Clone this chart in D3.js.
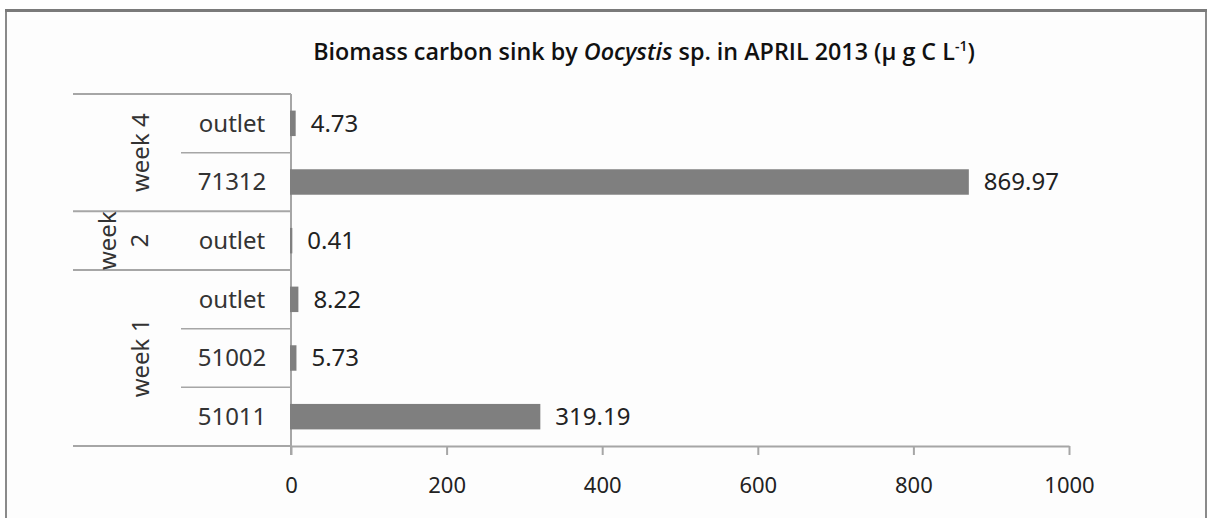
<!DOCTYPE html>
<html>
<head>
<meta charset="utf-8">
<script src="https://cdn.jsdelivr.net/npm/d3@7"></script>
<style>
  html, body { margin: 0; padding: 0; background: #ffffff; }
  svg { display: block; }
  text { font-family: "Noto Sans", "Open Sans", sans-serif; }
</style>
</head>
<body>
<svg id="chart" width="1209" height="518"></svg>
<script>
// Biomass carbon sink, April 2013 — one bar per sampling site, grouped by week
const groups     = ["week 1", "week 1", "week 1", "week 2", "week 4", "week 4"];
const categories = ["51011", "51002", "outlet", "outlet", "71312", "outlet"];
const values     = [319.19, 5.73, 8.22, 0.41, 869.97, 4.73];
const xTicks     = [0, 200, 400, 600, 800, 1000];

const svg = d3.select("#chart");
const W = 1209, H = 518;

// outer chart frame
svg.append("rect")
  .attr("x", 6).attr("y", 10.5).attr("width", 1200).attr("height", H)
  .attr("fill", "#fdfdfd").attr("stroke", "#8a8a8a").attr("stroke-width", 2);
svg.append("line")
  .attr("x1", 5).attr("x2", 1207).attr("y1", 10.5).attr("y2", 10.5)
  .attr("stroke", "#7a7a7a").attr("stroke-width", 3);

// plot area
const plot = { left: 291, right: 1069, top: 94, bottom: 446 };
const labelLeft = 73, innerLeft = 181;

const x = d3.scaleLinear().domain([0, 1000]).range([plot.left, plot.right]);
const idx = d3.range(values.length);
const y = d3.scaleBand()
  .domain(idx.slice().reverse())
  .range([plot.top, plot.bottom])
  .paddingInner(0.6).paddingOuter(0.3);
const step = y.step();

const lineColor = "#a6a6a6";

// title, sized so it spans the same width above the plot
const title = svg.append("text")
  .attr("x", 644).attr("y", 60)
  .attr("text-anchor", "middle")
  .attr("font-size", 22).attr("font-weight", 600)
  .style("font-family", "'Open Sans', 'Noto Sans', sans-serif")
  .attr("fill", "#111");
title.append("tspan").text("Biomass carbon sink by ");
title.append("tspan").attr("font-style", "italic").text("Oocystis");
title.append("tspan").text(" sp. in APRIL 2013 (\u00b5 g C L");
title.append("tspan").attr("font-size", "0.6em").attr("baseline-shift", "super").text("-1");
title.append("tspan").text(")");
const natural = title.node().getComputedTextLength();
title.attr("font-size", 22 * 662 / natural);

// x axis
const xAxis = d3.axisBottom(x).tickValues(xTicks).tickFormat(d3.format("d"))
  .tickSize(9).tickSizeOuter(0).tickPadding(22);
const gx = svg.append("g").attr("transform", `translate(0,${plot.bottom})`).call(xAxis);
gx.select(".domain").attr("stroke", lineColor).attr("stroke-width", 2);
gx.selectAll(".tick line").attr("stroke", lineColor).attr("stroke-width", 2);
gx.selectAll(".tick text")
  .attr("font-size", 22).attr("fill", "#222")
  .style("font-family", "'Noto Sans', sans-serif");

// vertical category axis line
svg.append("line")
  .attr("x1", plot.left).attr("x2", plot.left)
  .attr("y1", plot.top).attr("y2", plot.bottom + 9)
  .attr("stroke", lineColor).attr("stroke-width", 2);

// group boundaries (full width of the label area)
const groupRuns = [];
idx.forEach(i => {
  const last = groupRuns[groupRuns.length - 1];
  if (last && last.name === groups[i]) last.end = i;
  else groupRuns.push({ name: groups[i], start: i, end: i });
});
const bandTop = i => y(i) - (step - y.bandwidth()) / 2;
const bandBottom = i => bandTop(i) + step;

const groupEdges = [plot.bottom];
groupRuns.forEach(g => groupEdges.push(bandTop(g.end)));
svg.append("g").selectAll("line").data(groupEdges).join("line")
  .attr("x1", labelLeft).attr("x2", plot.left)
  .attr("y1", d => d).attr("y2", d => d)
  .attr("stroke", lineColor).attr("stroke-width", 2);

// boundaries between sites inside a group
const innerEdges = [];
groupRuns.forEach(g => {
  for (let i = g.start; i < g.end; i++) innerEdges.push(bandTop(i));
});
svg.append("g").selectAll("line").data(innerEdges).join("line")
  .attr("x1", innerLeft).attr("x2", plot.left)
  .attr("y1", d => d).attr("y2", d => d)
  .attr("stroke", lineColor).attr("stroke-width", 1.5);

// site labels
svg.append("g").selectAll("text").data(idx).join("text")
  .attr("x", 232)
  .attr("y", i => y(i) + y.bandwidth() / 2)
  .attr("dy", "0.35em")
  .attr("text-anchor", "middle")
  .attr("font-size", 24).attr("fill", "#333")
  .text(i => categories[i]);

// week labels, rotated; a single-site group wraps onto two lines
const wk = svg.append("g");
groupRuns.forEach(g => {
  const cy = (bandTop(g.end) + bandBottom(g.start)) / 2;
  const t = wk.append("text")
    .attr("text-anchor", "middle")
    .attr("font-size", 24).attr("fill", "#333");
  if (g.start === g.end) {
    const parts = g.name.split(" ");
    t.attr("transform", `translate(132,${cy}) rotate(-90)`);
    t.append("tspan").attr("x", 0).attr("dy", "-0.65em").text(parts[0]);
    t.append("tspan").attr("x", 0).attr("dy", "1.33em").text(parts[1]);
  } else {
    t.attr("transform", `translate(141,${cy}) rotate(-90)`)
      .attr("dy", "0.35em").text(g.name);
  }
});

// bars
svg.append("g").selectAll("rect").data(idx).join("rect")
  .attr("x", x(0))
  .attr("y", i => y(i))
  .attr("width", i => x(values[i]) - x(0))
  .attr("height", y.bandwidth())
  .attr("fill", "#7f7f7f")
  .attr("stroke", "#7f7f7f").attr("stroke-width", 2);

// value labels
svg.append("g").selectAll("text").data(idx).join("text")
  .attr("x", i => x(values[i]) + 16)
  .attr("y", i => y(i) + y.bandwidth() / 2)
  .attr("dy", "0.35em")
  .attr("font-size", 24).attr("fill", "#222")
  .text(i => values[i].toFixed(2));
</script>
</body>
</html>
